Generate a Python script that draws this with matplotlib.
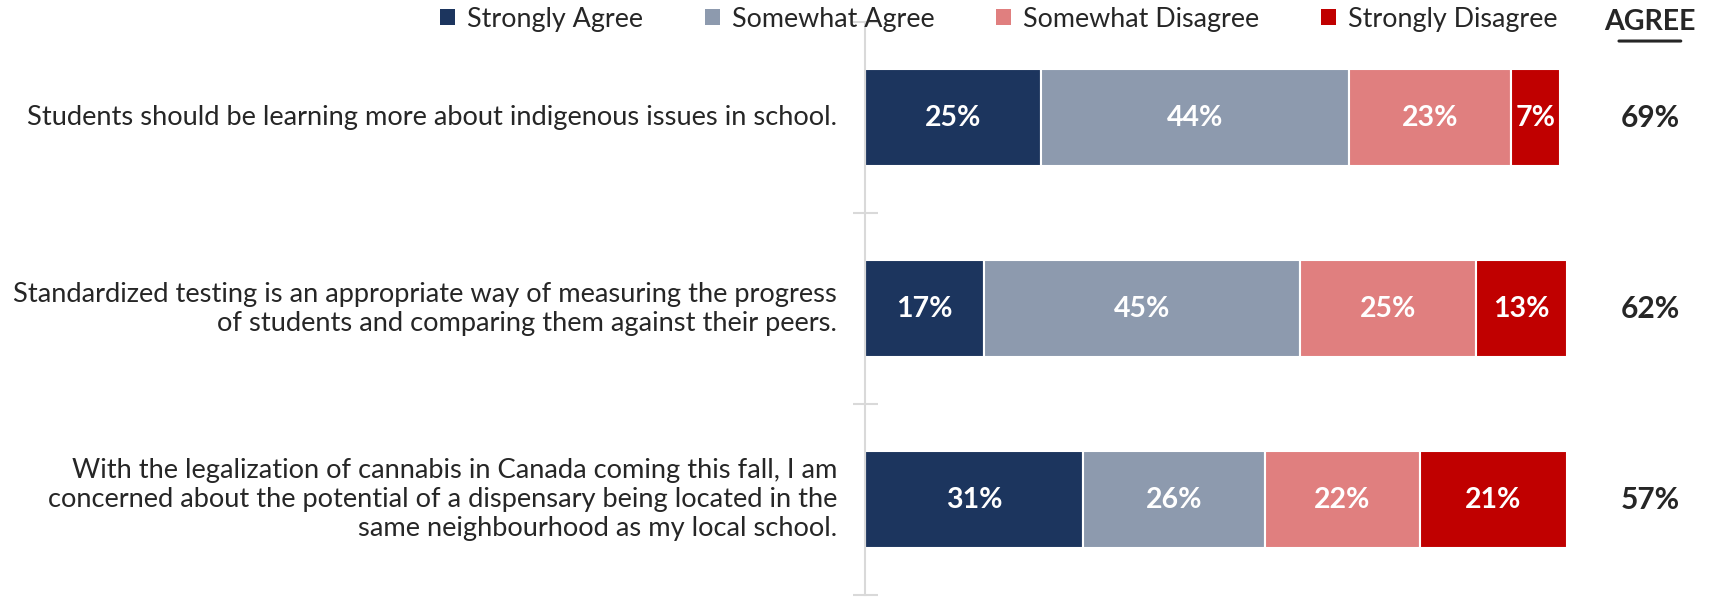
import matplotlib.pyplot as plt
from matplotlib.patches import Patch
from matplotlib.ticker import FixedLocator, NullFormatter

# Dados
afirmacoes = [
    "Students should be learning more about indigenous issues in school.",
    "Standardized testing is an appropriate way of measuring the progress\nof students and comparing them against their peers.",
    "With the legalization of cannabis in Canada coming this fall, I am\nconcerned about the potential of a dispensary being located in the\nsame neighbourhood as my local school.",
]
series = ["Strongly Agree", "Somewhat Agree", "Somewhat Disagree", "Strongly Disagree"]
strongly_agree = [25, 17, 31]
somewhat_agree = [44, 45, 26]
somewhat_disagree = [23, 25, 22]
strongly_disagree = [7, 13, 21]
agree_total = [69, 62, 57]

cores = ["#1c355e", "#8d9aae", "#e07f7f", "#c00000"]
cor_texto = "#262626"
fonte = ["Lato", "DejaVu Sans"]

plt.rcParams['font.family'] = fonte

fig = plt.figure(figsize=(17.19, 5.98), dpi=100)
ax = fig.add_axes([0.5032, 0.005, 0.4084, 0.958])

valores = [strongly_agree, somewhat_agree, somewhat_disagree, strongly_disagree]
y = list(range(len(afirmacoes)))
esquerda = [0] * len(afirmacoes)
for serie, cor, nome in zip(valores, cores, series):
    barras = ax.barh(y, serie, left=esquerda, height=0.505, color=cor,
                     edgecolor="white", linewidth=1.5, label=nome)
    for b, v in zip(barras, serie):
        ax.text(b.get_x() + b.get_width() / 2, b.get_y() + b.get_height() / 2,
                f"{v}%", ha="center", va="center", color="white",
                fontsize=20.5, fontweight="bold")
    esquerda = [e + v for e, v in zip(esquerda, serie)]

ax.set_xlim(0, 100)
ax.set_ylim(len(afirmacoes) - 0.5, -0.5)

# eixo y com marcas entre as categorias
for lado in ["top", "right", "bottom"]:
    ax.spines[lado].set_visible(False)
ax.spines["left"].set_color("#d9d9d9")
ax.spines["left"].set_linewidth(1.5)
ax.xaxis.set_visible(False)
ax.yaxis.set_major_locator(FixedLocator([-0.5 + i for i in range(len(afirmacoes) + 1)]))
ax.yaxis.set_major_formatter(NullFormatter())
ax.tick_params(axis="y", direction="inout", length=18, width=1.5, color="#d9d9d9")

# rótulos das afirmações
for yi, texto in zip(y, afirmacoes):
    ax.annotate(texto, xy=(0, yi), xycoords=("axes fraction", "data"),
                xytext=(-20, 0), textcoords="offset points",
                ha="right", va="center", fontsize=19.6, color=cor_texto,
                linespacing=1.2, annotation_clip=False)

# coluna AGREE
x_agree = 1.118
ax.text(x_agree, 1.001, "AGREE", transform=ax.transAxes, ha="center", va="center",
        fontsize=20.5, fontweight="bold", color=cor_texto)
ax.annotate("", xy=(x_agree - 0.048, 0.967), xytext=(x_agree + 0.048, 0.967),
            xycoords="axes fraction",
            arrowprops=dict(arrowstyle="-", color=cor_texto, lw=2.2))
for yi, v in zip(y, agree_total):
    ax.annotate(f"{v}%", xy=(x_agree, yi), xycoords=("axes fraction", "data"),
                ha="center", va="center", fontsize=21.5, fontweight="bold",
                color=cor_texto, annotation_clip=False)

# legenda
handles = [Patch(facecolor=c, edgecolor="none") for c in cores]
fig.legend(handles, series, loc="center", bbox_to_anchor=(0.581, 0.968), ncol=4,
           frameon=False, fontsize=19.4, handlelength=0.55, handleheight=0.55,
           handletextpad=0.45, columnspacing=2.3, labelcolor=cor_texto)

fig.savefig("out.png", dpi=100)
